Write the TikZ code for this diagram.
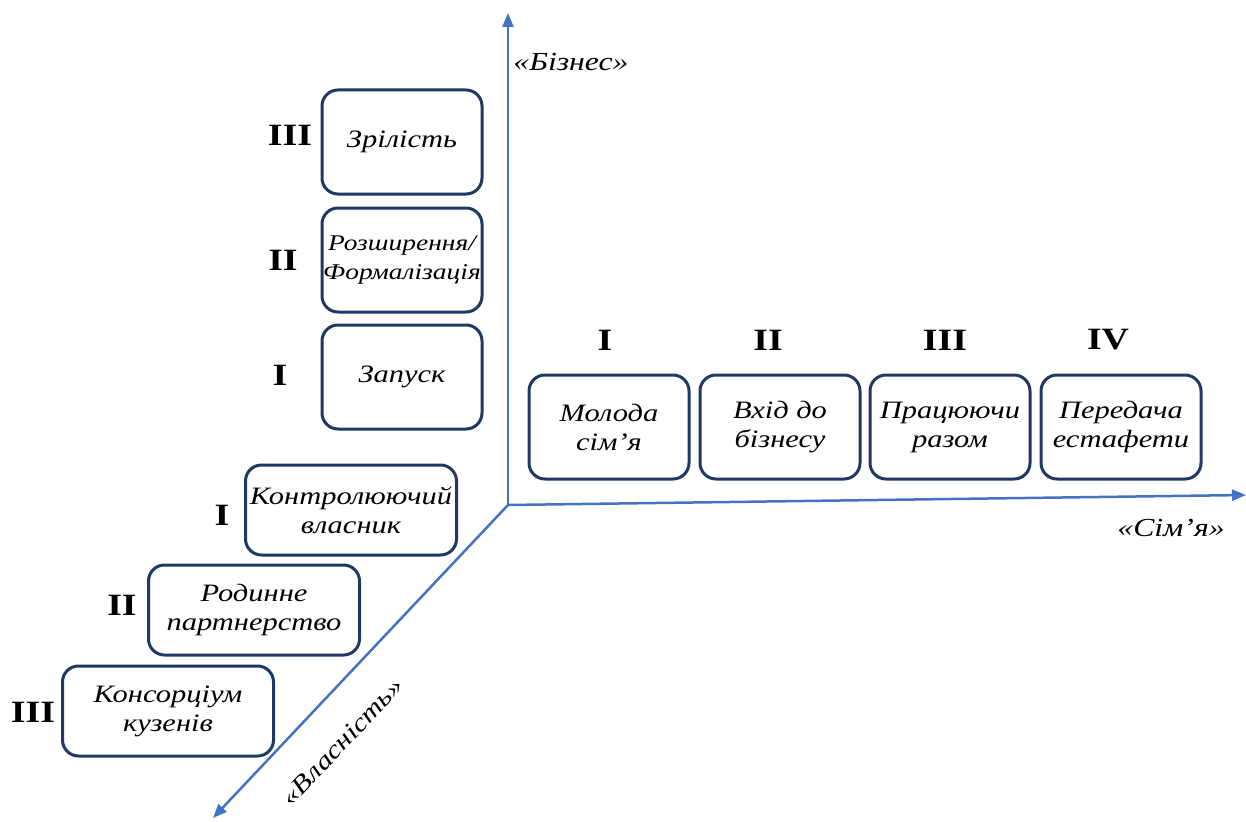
\documentclass[tikz,border=0pt]{standalone}
\usepackage{fontspec}
\setmainfont{Liberation Serif}[FakeStretch=1.22]
\usetikzlibrary{arrows.meta}
\definecolor{boxcol}{HTML}{1F3864}
\definecolor{axcol}{HTML}{4472C4}
\tikzset{
  stagebox/.style={draw=boxcol, line width=3pt, rounded corners=16pt, fill=white,
    minimum width=160pt, minimum height=104pt, align=center, inner sep=1pt,
    font=\fontsize{25}{29}\selectfont\itshape},
  ownbox/.style={stagebox, minimum width=211pt, minimum height=90pt},
  roman/.style={font=\fontsize{31}{31}\selectfont\bfseries},
  axis/.style={draw=axcol, line width=2.5pt, -{Triangle[length=14pt,width=11pt]}},
  axlabel/.style={font=\fontsize{26}{26}\selectfont\itshape}
}
\begin{document}
\begin{tikzpicture}[x=1pt,y=-1pt]
\useasboundingbox (0,0) rectangle (1246,821);
\coordinate (O) at (508,505);
\coordinate (up) at (508,13);
\coordinate (right) at (1246,495);
\coordinate (down) at (213,818);
\draw[axis] (O) -- (up);
\draw[axis] (O) -- (right);
\draw[axis] (O) -- (down);
\node[axlabel] (lb) at (571,62) {«Бізнес»};
\node[axlabel] (ls) at (1171,528) {«Сім’я»};
\node[axlabel, rotate=46.6] (lv) at (342,742) {\fontsize{25}{25}\selectfont«Власність»};
% business
\node[stagebox] (b3) at (402,142) {Зрілість};
\node[stagebox, font=\fontsize{22.5}{29}\selectfont\itshape] (b2) at (402,260) {Розширення/\\Формалізація};
\node[stagebox] (b1) at (402,377) {Запуск};
\node[roman] (rb3) at (290,135) {III};
\node[roman] (rb2) at (283,260) {II};
\node[roman] (rb1) at (280,375) {I};
% family
\node[stagebox] (f1) at (609,427) {Молода\\сім’я};
\node[stagebox] (f2) at (780,427) {Вхід до\\бізнесу};
\node[stagebox] (f3) at (950,427) {Працюючи\\разом};
\node[stagebox] (f4) at (1121,427) {Передача\\естафети};
\node[roman] (rf1) at (605,340) {I};
\node[roman] (rf2) at (768,340) {II};
\node[roman] (rf3) at (945,340) {III};
\node[roman] (rf4) at (1108,340) {IV};
% ownership
\node[ownbox] (o1) at (351,510) {Контролюючий\\власник};
\node[ownbox] (o2) at (254,610) {Родинне\\партнерство};
\node[ownbox] (o3) at (168,711) {Консорціум\\кузенів};
\node[roman] (ro1) at (222,515) {I};
\node[roman] (ro2) at (122,605) {II};
\node[roman] (ro3) at (33,712) {III};
\end{tikzpicture}
\end{document}
